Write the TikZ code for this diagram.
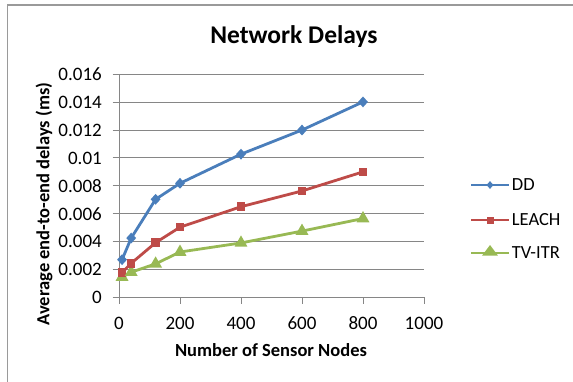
\documentclass[tikz,border=0pt]{standalone}
\usepackage{fontspec}
\setmainfont{Carlito}
\usetikzlibrary{shapes.geometric}
\definecolor{ddblue}{HTML}{4A7EBB}
\definecolor{leachred}{HTML}{BE4B48}
\definecolor{tvgreen}{HTML}{98B954}
\definecolor{gridgray}{HTML}{868686}
\definecolor{framegray}{HTML}{9A9A9A}
\begin{document}
\begin{tikzpicture}[x=1pt,y=1pt,
  gridline/.style={draw=gridgray, line width=0.9pt},
  ticklab/.style={inner sep=0pt, font=\fontsize{19}{21}\selectfont},
  axtitle/.style={inner sep=0pt, font=\fontsize{18.5}{21}\selectfont\bfseries},
  ddline/.style={draw=ddblue, line width=2.8pt, line join=round},
  leline/.style={draw=leachred, line width=2.8pt, line join=round},
  tvline/.style={draw=tvgreen, line width=2.8pt, line join=round},
  ddmark/.style={diamond, fill=ddblue, inner sep=0pt, minimum width=10pt, minimum height=11pt},
  lemark/.style={rectangle, fill=leachred, inner sep=0pt, minimum size=8.5pt},
  tvmark/.style={regular polygon, regular polygon sides=3, fill=tvgreen, inner sep=0pt, minimum size=15pt},
  legtext/.style={inner sep=0pt, anchor=west, font=\fontsize{18.5}{21}\selectfont}]
\useasboundingbox (0,0) rectangle (573,381);
% frame
\coordinate (fbl) at (7.5,-5);
\coordinate (ftl) at (7.5,376);
\coordinate (ftr) at (580,376);
\draw[framegray, line width=1.2pt] (fbl) -- (ftl) -- (ftr);
% title
\node[inner sep=0pt, anchor=base, font=\fontsize{25.5}{28}\selectfont\bfseries] (title) at (294,337.7) {Network Delays};
\begin{scope}[shift={(119,83.7)}, x=0.305pt, y=13.9375pt]
  % grid lines and y ticks
  \foreach \v/\lab in {2/0.002,4/0.004,6/0.006,8/0.008,10/0.01,12/0.012,14/0.014,16/0.016}{
    \coordinate (gl\v) at ([xshift=-6.5pt]0,\v);
    \coordinate (gr\v) at (1000,\v);
    \draw[gridline] (gl\v) -- (gr\v);
    \node[ticklab, anchor=east] (yl\v) at ([xshift=-17pt]0,\v) {\lab};
  }
  \node[ticklab, anchor=east] (yl0) at ([xshift=-17pt]0,0) {0};
  % axes
  \coordinate (ax0) at ([xshift=-6.5pt]0,0);
  \coordinate (ax1) at (1000,0);
  \coordinate (ay0) at ([yshift=-6.5pt]0,0);
  \coordinate (ay1) at (0,16);
  \draw[gridline] (ax0) -- (ax1);
  \draw[gridline] (ay0) -- (ay1);
  \foreach \x in {200,400,600,800,1000}{
    \coordinate (xt\x) at ([yshift=-6.5pt]\x,0);
    \coordinate (xb\x) at (\x,0);
    \draw[gridline] (xt\x) -- (xb\x);
  }
  \foreach \x in {0,200,400,600,800,1000}{
    \node[ticklab, anchor=base] (xl\x) at ([yshift=-32pt]\x,0) {\x};
  }
  % data points
  \foreach \i/\x/\y in {1/10/2.7,2/40/4.25,3/120/7.03,4/200/8.18,5/400/10.27,6/600/12.0,7/800/14.02}
    \coordinate (dd\i) at (\x,\y);
  \foreach \i/\x/\y in {1/10/1.78,2/40/2.44,3/120/3.92,4/200/5.03,5/400/6.5,6/600/7.63,7/800/9.0}
    \coordinate (le\i) at (\x,\y);
  \foreach \i/\x/\y in {1/10/1.45,2/40/1.8,3/120/2.4,4/200/3.25,5/400/3.9,6/600/4.75,7/800/5.65}
    \coordinate (tv\i) at (\x,\y);
  \draw[tvline] (tv1) -- (tv2) -- (tv3) -- (tv4) -- (tv5) -- (tv6) -- (tv7);
  \draw[leline] (le1) -- (le2) -- (le3) -- (le4) -- (le5) -- (le6) -- (le7);
  \draw[ddline] (dd1) -- (dd2) -- (dd3) -- (dd4) -- (dd5) -- (dd6) -- (dd7);
  \foreach \i in {1,...,7}{
    \node[tvmark] (tvm\i) at (tv\i) {};
    \node[lemark] (lem\i) at (le\i) {};
    \node[ddmark] (ddm\i) at (dd\i) {};
  }
\end{scope}
% axis titles
\node[axtitle, anchor=base] (xtitle) at (271,25) {Number of Sensor Nodes};
\node[axtitle, rotate=90] (ytitle) at (44,177) {Average end-to-end delays (ms)};
% legend
\coordinate (lg1a) at (471,196);
\coordinate (lg1b) at (509,196);
\coordinate (lg2a) at (471,161);
\coordinate (lg2b) at (509,161);
\coordinate (lg3a) at (471,128);
\coordinate (lg3b) at (509,128);
\draw[ddline] (lg1a) -- (lg1b);
\draw[leline] (lg2a) -- (lg2b);
\draw[tvline] (lg3a) -- (lg3b);
\node[ddmark, minimum width=7pt, minimum height=8pt] (lgm1) at (490,196) {};
\node[lemark, minimum size=7pt] (lgm2) at (490,161) {};
\node[tvmark, minimum size=14pt, xscale=1.3] (lgm3) at (490,129) {};
\node[legtext] (lt1) at (511.7,196) {DD};
\node[legtext] (lt2) at (511.7,161) {LEACH};
\node[legtext] (lt3) at (511.7,128) {TV-ITR};
\end{tikzpicture}
\end{document}
